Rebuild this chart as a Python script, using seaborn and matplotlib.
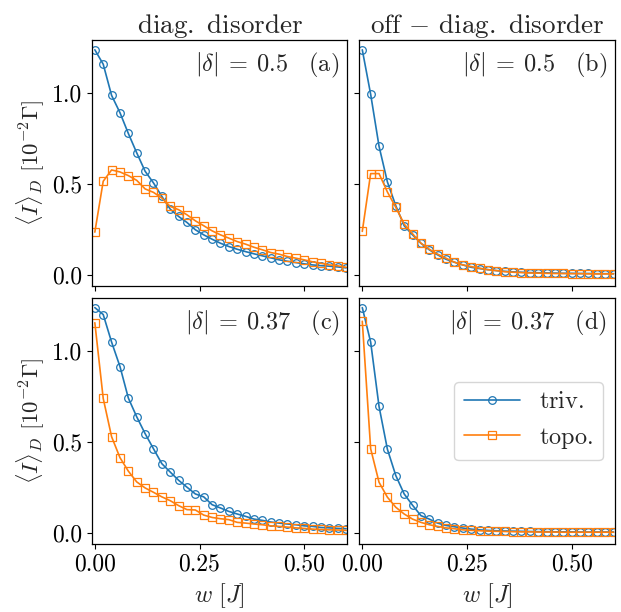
import numpy as np
import matplotlib
matplotlib.use("Agg")
import matplotlib.pyplot as plt
import seaborn as sns

# --- DATA ---
w = [0.00, 0.02, 0.04, 0.06, 0.08, 0.10, 0.12, 0.14, 0.16, 0.18,
     0.20, 0.22, 0.24, 0.26, 0.28, 0.30, 0.32, 0.34, 0.36, 0.38,
     0.40, 0.42, 0.44, 0.46, 0.48, 0.50, 0.52, 0.54, 0.56, 0.58, 0.60]

# (a) diag. disorder, |delta| = 0.5
triv_a = [1.235, 1.156, 0.985, 0.890, 0.776, 0.670, 0.569, 0.505, 0.431, 0.361,
          0.321, 0.288, 0.248, 0.220, 0.196, 0.174, 0.156, 0.141, 0.128, 0.116,
          0.105, 0.094, 0.083, 0.075, 0.068, 0.061, 0.055, 0.051, 0.048, 0.044, 0.039]
topo_a = [0.235, 0.514, 0.576, 0.565, 0.545, 0.519, 0.472, 0.453, 0.422, 0.376,
          0.358, 0.330, 0.297, 0.270, 0.242, 0.220, 0.202, 0.183, 0.169, 0.152,
          0.138, 0.123, 0.114, 0.101, 0.092, 0.083, 0.072, 0.064, 0.055, 0.050, 0.042]

# (b) off-diag. disorder, |delta| = 0.5
triv_b = [1.235, 0.991, 0.706, 0.510, 0.380, 0.270, 0.220, 0.174, 0.138, 0.110,
          0.086, 0.070, 0.055, 0.042, 0.035, 0.029, 0.024, 0.020, 0.017, 0.015,
          0.013, 0.012, 0.011, 0.010, 0.009, 0.009, 0.008, 0.008, 0.007, 0.007, 0.007]
topo_b = [0.239, 0.556, 0.556, 0.455, 0.371, 0.279, 0.226, 0.174, 0.141, 0.114,
          0.092, 0.070, 0.055, 0.046, 0.037, 0.029, 0.024, 0.018, 0.015, 0.013,
          0.011, 0.010, 0.009, 0.008, 0.008, 0.007, 0.007, 0.006, 0.006, 0.006, 0.006]

# (c) diag. disorder, |delta| = 0.37
triv_c = [1.237, 1.199, 1.048, 0.914, 0.741, 0.638, 0.546, 0.463, 0.381, 0.335,
          0.290, 0.252, 0.215, 0.199, 0.156, 0.138, 0.119, 0.105, 0.092, 0.077,
          0.070, 0.061, 0.055, 0.050, 0.046, 0.040, 0.037, 0.031, 0.029, 0.026, 0.024]
topo_c = [1.154, 0.739, 0.529, 0.414, 0.340, 0.281, 0.248, 0.224, 0.199, 0.178,
          0.151, 0.129, 0.127, 0.099, 0.086, 0.079, 0.074, 0.059, 0.055, 0.050,
          0.046, 0.040, 0.037, 0.033, 0.029, 0.026, 0.022, 0.020, 0.018, 0.017, 0.015]

# (d) off-diag. disorder, |delta| = 0.37
triv_d = [1.237, 1.048, 0.695, 0.460, 0.316, 0.215, 0.153, 0.096, 0.077, 0.055,
          0.042, 0.035, 0.028, 0.022, 0.018, 0.015, 0.013, 0.012, 0.011, 0.010,
          0.009, 0.008, 0.008, 0.007, 0.007, 0.007, 0.006, 0.006, 0.006, 0.006, 0.006]
topo_d = [1.162, 0.463, 0.279, 0.197, 0.142, 0.105, 0.077, 0.059, 0.046, 0.037,
          0.029, 0.024, 0.018, 0.015, 0.013, 0.011, 0.010, 0.009, 0.008, 0.007,
          0.007, 0.006, 0.006, 0.006, 0.005, 0.005, 0.005, 0.005, 0.005, 0.005, 0.005]

col_titles = [r"$\mathrm{diag.\ disorder}$", r"$\mathrm{off}\,-\,\mathrm{diag.\ disorder}$"]
panel_text = [r"$|\delta|\:=\:0.5\quad \mathrm{(a)}$", r"$|\delta|\:=\:0.5\quad \mathrm{(b)}$",
              r"$|\delta|\:=\:0.37\quad \mathrm{(c)}$", r"$|\delta|\:=\:0.37\quad \mathrm{(d)}$"]
series = [(triv_a, topo_a), (triv_b, topo_b), (triv_c, topo_c), (triv_d, topo_d)]

BLUE = "#1f77b4"
ORANGE = "#ff7f0e"

# --- STYLE ---
sns.set_style("ticks")
plt.rcParams["font.family"] = ["serif"]
plt.rcParams["font.serif"] = ["cmr10", "DejaVu Serif"]
plt.rcParams["mathtext.fontset"] = "cm"
plt.rcParams["axes.formatter.use_mathtext"] = True
plt.rcParams["font.size"] = 17
plt.rcParams["axes.edgecolor"] = "black"
plt.rcParams["axes.linewidth"] = 0.9
plt.rcParams["xtick.color"] = "black"
plt.rcParams["ytick.color"] = "black"
plt.rcParams["xtick.major.size"] = 3.5
plt.rcParams["ytick.major.size"] = 3.5

fig, axes = plt.subplots(2, 2, figsize=(6.21, 6.12), dpi=100, sharex=True, sharey=True)
fig.subplots_adjust(left=0.148, right=0.990, top=0.935, bottom=0.111,
                    wspace=0.047, hspace=0.049)

for i, ax in enumerate(axes.flat):
    triv, topo = series[i]
    sns.lineplot(x=w, y=triv, ax=ax, color=BLUE, marker="o", markersize=5.5,
                 markerfacecolor="none", markeredgecolor=BLUE, markeredgewidth=0.9,
                 linewidth=1.2, label=r"$\mathrm{triv.}$")
    sns.lineplot(x=w, y=topo, ax=ax, color=ORANGE, marker="s", markersize=5.5,
                 markerfacecolor="none", markeredgecolor=ORANGE, markeredgewidth=0.9,
                 linewidth=1.2, label=r"$\mathrm{topo.}$")
    ax.text(0.97, 0.955, panel_text[i], transform=ax.transAxes,
            ha="right", va="top", fontsize=17.5)
    if i == 3:
        ax.legend(loc="center right", fontsize=17.5, handlelength=2.3)
    else:
        ax.get_legend().remove()
    for s in ax.spines.values():
        s.set_visible(True)

ax0 = axes[0, 0]
ax0.set_xlim(-0.007, 0.603)
ax0.set_ylim(-0.06, 1.29)
ax0.set_xticks([0.0, 0.25, 0.5])
ax0.set_yticks([0.0, 0.5, 1.0])
ax0.xaxis.set_major_formatter(matplotlib.ticker.FormatStrFormatter("%.2f"))
ax0.yaxis.set_major_formatter(matplotlib.ticker.FormatStrFormatter("%.1f"))

for j in range(2):
    axes[0, j].set_title(col_titles[j], fontsize=19.5, pad=5)
    axes[1, j].set_xlabel(r"$w\ [J]$", fontsize=17.5)
    axes[j, 0].set_ylabel(r"$\langle I\rangle_D\ [10^{-2}\Gamma]$", fontsize=16.5)

fig.savefig("out.png", dpi=100)
